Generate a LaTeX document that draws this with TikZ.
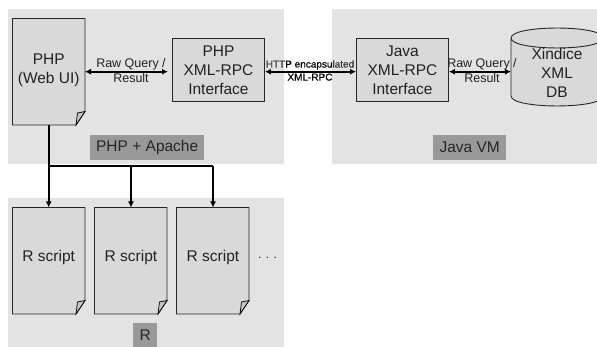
\documentclass[tikz,border=0pt]{standalone}
\usepackage{fontspec}
\setmainfont{Liberation Sans}
\newfontfamily\fakeb[FakeBold=0.5]{Liberation Sans}
\usetikzlibrary{arrows.meta}
\definecolor{panelc}{gray}{0.65}
\definecolor{boxc}{gray}{0.85}
\definecolor{tagc}{gray}{0.6}
\definecolor{inkc}{gray}{0.13}
\tikzset{
 x=1pt,y=-1pt,
 panel/.style={fill=panelc,fill opacity=0.315,draw=none},
 bx/.style={draw=black!85,fill=boxc,line width=0.9pt,inner sep=0,text=inkc,align=center,font=\fontsize{15.5}{19}\selectfont,anchor=north west},
 tag/.style={fill=tagc,text=black!85,inner sep=0,anchor=north west,font=\fontsize{15.5}{16}\selectfont},
 bigtxt/.style={text=inkc,align=center,inner sep=0,font=\fontsize{15.5}{19}\selectfont},
 sm/.style={text=inkc,align=center,inner sep=0,font=\fontsize{12.5}{15}\selectfont},
 ln/.style={line width=1.7pt,draw=black},
 dbl/.style={ln,{Latex[length=6pt,width=6pt]}-{Latex[length=6pt,width=6pt]}},
 sgl/.style={ln,-{Latex[length=6pt,width=6pt]}},
 foldc/.style={draw=black,fill=gray!45,line width=0.7pt}
}
\newcommand{\docshape}[5]{%
 \node[inner sep=0,minimum width=0,minimum height=0] (#1) at ({(#2+#4)/2},{(#3+#5)/2}) {};
 \draw[black!85,fill=boxc,line width=0.9pt] (#2,#3) -- (#4,#3) -- (#4,#5-13.5) -- (#4-9,#5) -- (#2,#5) -- cycle;
 \draw[foldc] (#4,#5-13.5) -- (#4-7.5,#5-12) -- (#4-9,#5) -- cycle;
}
\begin{document}
\begin{tikzpicture}
\useasboundingbox (0,0) rectangle (597,347);
\fill[white] (0,0) rectangle (597,347);
\node[inner sep=0,align=center,text=black,font=\fakeb\fontsize{10}{13}\selectfont] (http) at (310,70.5) {HTTP encapsulated\\XML-RPC};
\fill[panel] (8,9) rectangle (284,164);
\fill[panel] (332,9) rectangle (597,164);
\fill[panel] (8,198) rectangle (284,347);
\node[tag,minimum width=114pt,minimum height=25pt] (phptag) at (90,135) {PHP + Apache};
\node[tag,minimum width=73pt,minimum height=25pt] (javatag) at (433,135) {Java VM};
\node[tag,minimum width=24pt,minimum height=24pt] (rtag) at (133,323) {R};
\docshape{phpdoc}{12.5}{18.5}{85}{125}
\node[bigtxt] (phptxt) at (48.7,70) {PHP\\(Web UI)};
\node[bx,minimum width=92pt,minimum height=63pt] (phpxml) at (172,38) {PHP\\XML-RPC\\Interface};
\node[bx,minimum width=92pt,minimum height=63pt] (javaxml) at (356,38) {Java\\XML-RPC\\Interface};
% cylinder
\path[fill=boxc] (511,38) .. controls (511,24.7) and (603,24.7) .. (603,38) -- (603,96) .. controls (603,109.3) and (511,109.3) .. (511,96) -- cycle;
\draw[black!85,line width=0.9pt] (511,96) -- (511,38) .. controls (511,24.7) and (603,24.7) .. (603,38) .. controls (603,51.3) and (511,51.3) .. (511,38);
\draw[black!85,line width=0.9pt] (511,96) .. controls (511,109.3) and (603,109.3) .. (603,96);
\node[bigtxt] (dbtxt) at (557,72.5) {Xindice\\XML\\DB};
\docshape{r1}{12.5}{207.5}{85}{314}
\docshape{r2}{94.5}{207.5}{167}{314}
\docshape{r3}{176.5}{207.5}{249}{314}
\node[bigtxt] (rt1) at (48.7,257) {R script};
\node[bigtxt] (rt2) at (131,257) {R script};
\node[bigtxt] (rt3) at (213,257) {R script};
\node[text=inkc,inner sep=0,font=\fontsize{12}{14}\selectfont] (dots) at (267.5,258) {. . .};
% connectors
\coordinate (phpl) at (85,71.7);
\coordinate (phpr) at (168,71.7);
\draw[dbl] (phpl) -- (phpr);
\node[sm] (q1) at (131,71) {Raw Query /\\Result};
\draw[dbl] (phpxml.east |- phpl) -- (javaxml.west |- phpl);
\draw[dbl] (javaxml.east |- phpl) -- (511,71.7);
\node[sm] (q2) at (482,71) {Raw Query /\\Result};
\coordinate (bus1) at (48.7,166);
\coordinate (bus2) at (131,166);
\coordinate (bus3) at (213,166);
\draw[ln] (48.7,125) -- (bus1) -- (bus3);
\draw[sgl] (bus1) -- (48.7,207.5);
\draw[sgl] (bus2) -- (131,207.5);
\draw[sgl] (bus3) -- (213,207.5);
\end{tikzpicture}
\end{document}
